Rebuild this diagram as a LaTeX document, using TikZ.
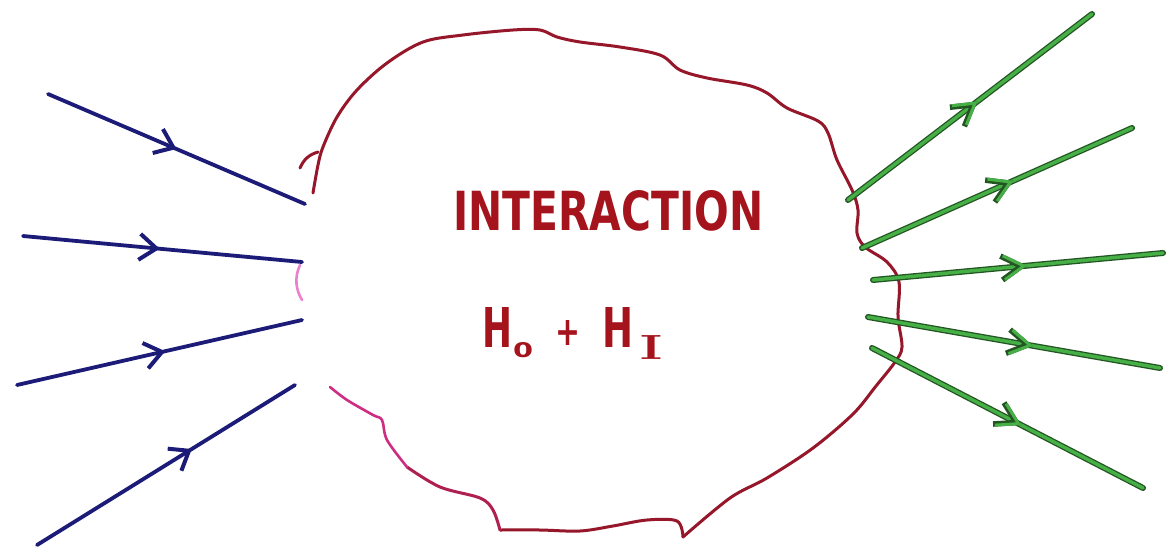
\documentclass[tikz,border=0pt]{standalone}
\usepackage{fontspec}
\setsansfont{DejaVu Sans}
\usetikzlibrary{arrows.meta,decorations.markings}
\definecolor{navy}{RGB}{28,28,120}
\definecolor{blobred}{RGB}{150,22,42}
\definecolor{blobpink}{RGB}{205,45,130}
\definecolor{txtred}{RGB}{165,20,28}
\definecolor{gdark}{RGB}{35,85,35}
\definecolor{glight}{RGB}{70,175,70}
\definecolor{pinkarc}{RGB}{232,130,205}
\tikzset{
  inline/.style={draw=navy, line width=3.8pt, line cap=round,
    postaction={decorate, decoration={markings, mark=at position #1 with
      {\arrow[navy]{Straight Barb[length=17pt,width=26pt,line width=4pt]}}}}},
  outline/.style={draw=gdark, line width=6pt, line cap=round,
    postaction={draw=glight, line width=3.4pt},
    postaction={decorate, decoration={markings, mark=at position #1 with
      {\arrow[gdark]{Straight Barb[length=20pt,width=24pt,line width=5.5pt]}%
       \arrow[glight]{Straight Barb[length=20pt,width=24pt,line width=3pt]}}}}},
  blob/.style={draw=blobred, line width=3pt, line cap=round, line join=round},
  handtext/.style={text=txtred, inner sep=0pt, anchor=north west, font=\sffamily\bfseries},
}
\begin{document}
\begin{tikzpicture}[x=1pt,y=-1pt]
\useasboundingbox[fill=white] (0,0) rectangle (1175,552);

% interaction region
\draw[blob] plot[smooth, tension=0.55] coordinates {
 (313,193) (318,165) (323,147) (337,117) (357,90) (387,63) (423,42) (463,35)
 (513,30) (540,30) (557,37) (580,42) (620,47) (660,55) (680,70) (707,78)
 (747,85) (767,93) (787,108) (818,121) (828,133) (837,160) (852,190) (858,210)
 (857,233) (865,247) (887,262) (899,282) (898,317) (902,347) (895,362) (876,386)
 (853,414) (813,448) (767,478) (730,498) (683,537)};
\draw[blob] plot[smooth, tension=0.55] coordinates {
 (683,537) (677,521) (647,520) (613,526) (580,531) (540,530) (500,530)};
\draw[blob, draw=blobred!55!blobpink] plot[smooth, tension=0.55] coordinates {
 (500,530) (493,510) (480,498) (440,487) (407,467)};
\draw[blob, draw=blobpink, line width=2.6pt] plot[smooth, tension=0.55] coordinates {
 (407,467) (387,440) (382,420) (373,415) (347,400) (330,387)};
\draw[blob] (300,168) to[bend left=25] (318,152);
\draw[draw=pinkarc, line width=2.6pt, line cap=round] (300,265) .. controls (294,278) and (296,290) .. (302,300);

% texts
\node[handtext] (title) at (453,190) {\resizebox{310pt}{40pt}{INTERACTION}};
\node[handtext] (h0) at (482,307) {\resizebox{30pt}{40pt}{H}};
\node[handtext] (sub0) at (513,342) {\resizebox{20pt}{15pt}{0}};
\node[handtext] (plus) at (555,320) {\resizebox{25pt}{25pt}{+}};
\node[handtext] (hI) at (602,307) {\resizebox{31pt}{40pt}{H}};
\node[handtext] (subI) at (640,335) {\resizebox{22pt}{24pt}{\rmfamily\bfseries I}};

% incoming lines
\coordinate (b1s) at (48,94);   \coordinate (b1e) at (305,204);
\coordinate (b2s) at (23,236);  \coordinate (b2e) at (302,262);
\coordinate (b3s) at (17,385);  \coordinate (b3e) at (302,320);
\coordinate (b4s) at (37,545);  \coordinate (b4e) at (295,385);
\draw[inline=0.5]  (b1s) -- (b1e);
\draw[inline=0.49] (b2s) -- (b2e);
\draw[inline=0.52] (b3s) -- (b3e);
\draw[inline=0.6]  (b4s) -- (b4e);

% outgoing lines
\coordinate (g1s) at (848,200); \coordinate (g1e) at (1092,14);
\coordinate (g2s) at (862,248); \coordinate (g2e) at (1132,128);
\coordinate (g3s) at (873,280); \coordinate (g3e) at (1163,253);
\coordinate (g4s) at (868,317); \coordinate (g4e) at (1160,368);
\coordinate (g5s) at (872,348); \coordinate (g5e) at (1143,488);
\draw[outline=0.53]  (g1s) -- (g1e);
\draw[outline=0.56]  (g2s) -- (g2e);
\draw[outline=0.53]  (g3s) -- (g3e);
\draw[outline=0.565] (g4s) -- (g4e);
\draw[outline=0.55]  (g5s) -- (g5e);
\end{tikzpicture}
\end{document}
